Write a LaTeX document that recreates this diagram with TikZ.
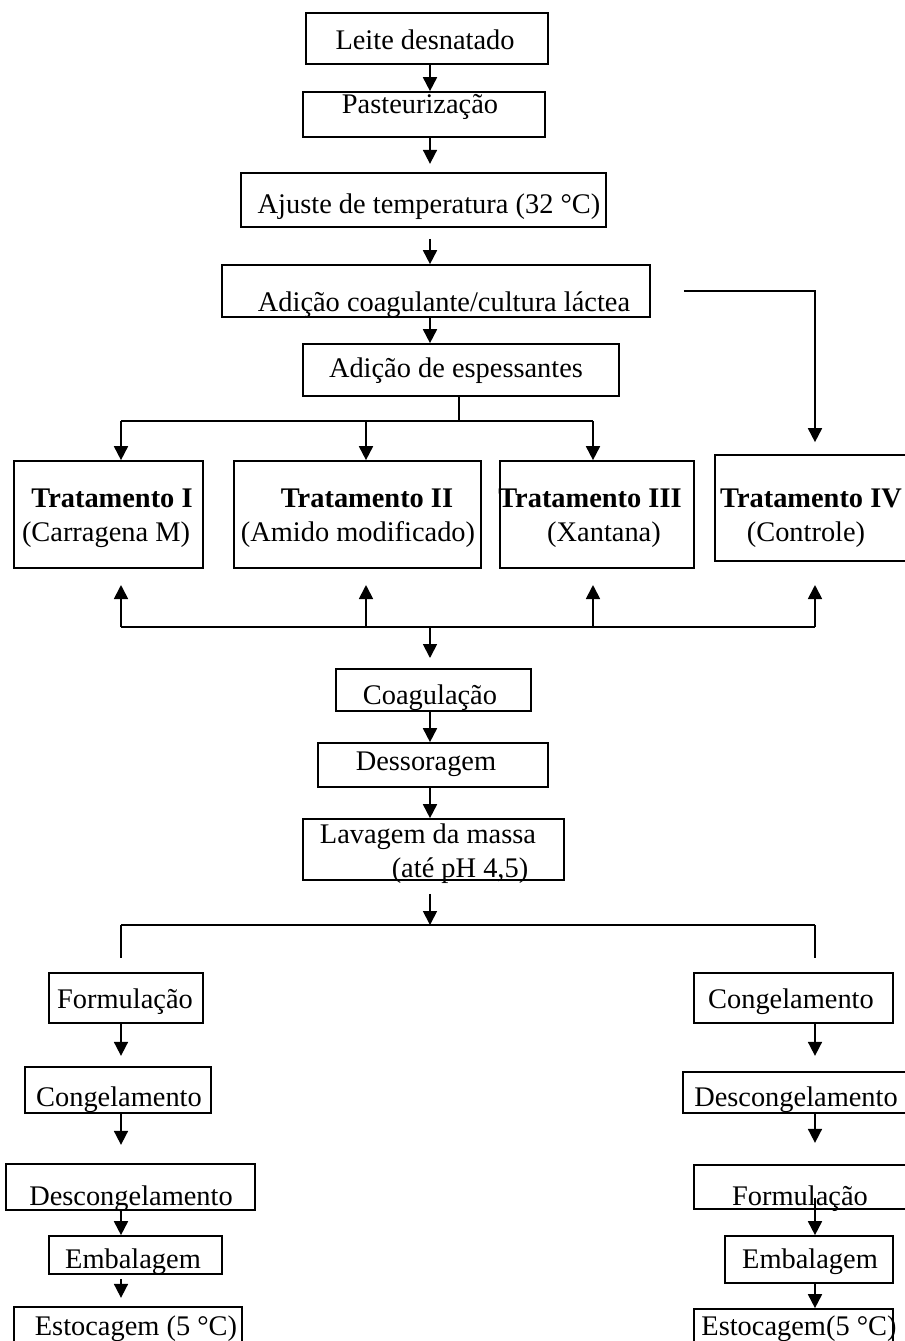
\documentclass[tikz,border=0pt]{standalone}
\usepackage{fontspec}
\setmainfont{Liberation Serif}
\usetikzlibrary{arrows.meta,fit}

\begin{document}
\begin{tikzpicture}[x=0.5pt, y=-0.5pt,
	box/.style={draw, line width=0.85pt, inner sep=0pt},
	txt/.style={inner sep=0pt, anchor=base, font=\fontsize{14.2}{17}\selectfont},
	arr/.style={-{Triangle[length=7pt,width=7pt]}, line width=0.9pt},
	ln/.style={line width=0.9pt}]
	\useasboundingbox (0,0) rectangle (905,1341);
	% columns used by the connectors
	\coordinate (mid) at (430,0);
	\coordinate (ca) at (121,0);
	\coordinate (cb) at (366,0);
	\coordinate (cc) at (593,0);
	\coordinate (cd) at (815,0);
	% main line
	\node[box, fit={(306,13) (548,64)}] (b1) {};
	\node[txt] (b1t) at (425,49) {Leite desnatado};
	\node[box, fit={(303,92) (545,137)}] (b2) {};
	\node[txt] (b2t) at (420,113) {Pasteurização};
	\node[box, fit={(241,173) (606,227)}] (b3) {};
	\node[txt] (b3t) at (429,213) {Ajuste de temperatura (32 °C)};
	\node[box, fit={(222,265) (650,317)}] (b4) {};
	\node[txt] (b4t) at (444,311) {Adição coagulante/cultura láctea};
	\node[box, fit={(303,344) (619,396)}] (b5) {};
	\node[txt] (b5t) at (456,377) {Adição de espessantes};
	\draw[arr] (b1.south -| mid) -- (b2.north -| mid);
	\draw[arr] (b2.south -| mid) -- ++(0,26);
	\draw[arr] (b3.south -| mid) ++(0,11) -- (b4.north -| mid);
	\draw[arr] (b4.south -| mid) -- (b5.north -| mid);
	% treatments
	\node[box, fit={(14,461) (203,568)}] (t1) {};
	\node[txt, font=\fontsize{14.2}{17}\selectfont\bfseries] (t1a) at (112,507) {Tratamento I};
	\node[txt] (t1b) at (106,541) {(Carragena M)};
	\node[box, fit={(234,461) (481,568)}] (t2) {};
	\node[txt, font=\fontsize{14.2}{17}\selectfont\bfseries] (t2a) at (367,507) {Tratamento II};
	\node[txt] (t2b) at (358,541) {(Amido modificado)};
	\node[box, fit={(500,461) (694,568)}] (t3) {};
	\node[txt, font=\fontsize{14.2}{17}\selectfont\bfseries] (t3a) at (590,507) {Tratamento III};
	\node[txt] (t3b) at (604,541) {(Xantana)};
	\node[box, fit={(715,455) (915,561)}] (t4) {};
	\node[txt, font=\fontsize{14.2}{17}\selectfont\bfseries] (t4a) at (811,507) {Tratamento IV};
	\node[txt] (t4b) at (806,541) {(Controle)};
	% branches into the treatments
	\coordinate (j1) at (459,421);
	\draw[ln] (b5.south -| j1) -- (j1);
	\draw[ln] (ca |- j1) -- (cc |- j1);
	\foreach \c/\t in {ca/t1, cb/t2, cc/t3}
		\draw[arr] (\c |- j1) -- (\c |- \t.north);
	\draw[arr] ([xshift=16.5pt]b4.east) -| ([yshift=6pt]t4.north);
	% back from the treatments
	\coordinate (j2) at (430,627);
	\coordinate (j3) at (0,585);
	\draw[ln] (ca |- j2) -- (cd |- j2);
	\foreach \c in {ca, cb, cc, cd}
		\draw[arr] (\c |- j2) -- (\c |- j3);
	\draw[arr] (j2) -- ++(0,31);
	% processing
	\node[box, fit={(336,669) (531,711)}] (c) {};
	\node[txt] (ct) at (430,704) {Coagulação};
	\node[box, fit={(318,743) (548,787)}] (d) {};
	\node[txt] (dt) at (426,770) {Dessoragem};
	\node[box, fit={(303,819) (564,880)}] (l) {};
	\node[txt] (lt1) at (428,843) {Lavagem da massa};
	\node[txt] (lt2) at (460,877) {(até pH 4,5)};
	\draw[arr] (c.south -| mid) -- (d.north -| mid);
	\draw[arr] (d.south -| mid) -- (l.north -| mid);
	\coordinate (j4) at (430,925);
	\draw[arr] (l.south -| mid) ++(0,13) -- (j4);
	\draw[ln] (ca |- j4) -- (cd |- j4);
	\draw[ln] (ca |- j4) -- ++(0,33);
	\draw[ln] (cd |- j4) -- ++(0,33);
	% left route
	\node[box, fit={(49,973) (203,1023)}] (lf) {};
	\node[txt] (lft) at (125,1008) {Formulação};
	\node[box, fit={(25,1067) (211,1113)}] (lc) {};
	\node[txt] (lct) at (119,1106) {Congelamento};
	\node[box, fit={(6,1164) (255,1210)}] (ld) {};
	\node[txt] (ldt) at (131,1205) {Descongelamento};
	\node[box, fit={(49,1236) (222,1274)}] (le) {};
	\node[txt] (let) at (133,1268) {Embalagem};
	\node[box, fit={(14,1307) (242,1360)}] (ls) {};
	\node[txt] (lst) at (136,1335) {Estocagem (5 °C)};
	\draw[arr] (lf.south -| ca) -- ++(0,32);
	\draw[arr] (lc.south -| ca) -- ++(0,31);
	\draw[arr] (ld.south -| ca) -- (le.north -| ca);
	\draw[arr] (le.south -| ca) ++(0,4) -- ++(0,19);
	% right route
	\node[box, fit={(694,973) (893,1023)}] (rc) {};
	\node[txt] (rct) at (791,1008) {Congelamento};
	\node[box, fit={(683,1072) (915,1113)}] (rd) {};
	\node[txt] (rdt) at (796,1106) {Descongelamento};
	\node[box, fit={(694,1165) (915,1209)}] (rf) {};
	\node[txt] (rft) at (800,1205) {Formulação};
	\node[box, fit={(725,1236) (893,1283)}] (re) {};
	\node[txt] (ret) at (810,1268) {Embalagem};
	\node[box, fit={(694,1309) (893,1360)}] (rs) {};
	\node[txt] (rst) at (799,1335) {Estocagem(5 °C)};
	\draw[arr] (rc.south -| cd) -- ++(0,32);
	\draw[arr] (rd.south -| cd) -- ++(0,29);
	\draw[arr] ([yshift=6pt]rf.south -| cd) -- (re.north -| cd);
	\draw[arr] (re.south -| cd) -- (rs.north -| cd);
\end{tikzpicture}
\end{document}
